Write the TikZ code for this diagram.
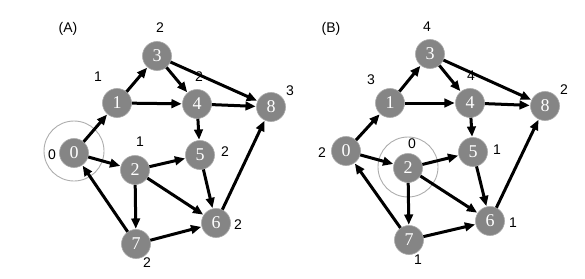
\documentclass[tikz,border=0pt]{standalone}
\usepackage{fontspec}
\setmainfont{Liberation Sans}
\newfontfamily\numfont{Liberation Serif}
\usepackage{xcolor}
\usetikzlibrary{arrows.meta}
\definecolor{nodegray}{HTML}{858585}
\definecolor{rimgray}{HTML}{A8A8A8}
\definecolor{ringgray}{HTML}{ADADAD}
\tikzset{
  >={Triangle[length=3.6mm,width=3mm]},
  vert/.style={circle, fill=nodegray, draw=rimgray, line width=.6pt, minimum size=29pt, inner sep=0pt, text=white, font=\numfont\fontsize{18}{18}\selectfont},
  edge/.style={->, line width=3pt, shorten >=0.5pt},
  dist/.style={font=\fontsize{14}{14}\selectfont},
  ring/.style={circle, draw=ringgray, line width=.9pt, minimum size=60pt, inner sep=0pt}
}
\begin{document}
\begin{tikzpicture}[x=1pt,y=-1pt]
  \useasboundingbox (0,0) rectangle (585,278);

  % panel (A)
  \node[font=\fontsize{14}{14}\selectfont] (labA) at (68,29) {(A)};
  \node[ring] (ringA) at (74,151) {};
  \node[vert] (a0) at (74,153) {0};
  \node[vert] (a1) at (117,103) {1};
  \node[vert] (a2) at (135,170) {2};
  \node[vert] (a3) at (157,56) {3};
  \node[vert] (a4) at (197,104) {4};
  \node[vert] (a5) at (200,155) {5};
  \node[vert] (a6) at (216,223) {6};
  \node[vert] (a7) at (136,244) {7};
  \node[vert] (a8) at (271,107) {8};
  \foreach \s/\t in {0/1,0/2,7/0,1/3,1/4,3/4,3/8,4/8,4/5,2/5,2/6,2/7,5/6,7/6,6/8}
    \draw[edge] (a\s) -- (a\t);
  \node[dist] (da0) at (52,155) {0};
  \node[dist] (da1) at (98,77) {1};
  \node[dist] (da2) at (140,142) {1};
  \node[dist] (da3) at (160,28) {2};
  \node[dist] (da4) at (199,77) {2};
  \node[dist] (da5) at (225,152) {2};
  \node[dist] (da6) at (238,225) {2};
  \node[dist] (da7) at (147,263) {2};
  \node[dist] (da8) at (290,91) {3};

  % panel (B)
  \node[font=\fontsize{14}{14}\selectfont] (labB) at (331,29) {(B)};
  \node[ring] (ringB) at (408,167) {};
  \node[vert] (b0) at (346,151) {0};
  \node[vert] (b1) at (390,103) {1};
  \node[vert] (b2) at (408,168) {2};
  \node[vert] (b3) at (430,54) {3};
  \node[vert] (b4) at (470,103) {4};
  \node[vert] (b5) at (473,152) {5};
  \node[vert] (b6) at (490,221) {6};
  \node[vert] (b7) at (409,240) {7};
  \node[vert] (b8) at (545,106) {8};
  \foreach \s/\t in {0/1,0/2,7/0,1/3,1/4,3/4,3/8,4/8,4/5,2/5,2/6,2/7,5/6,7/6,6/8}
    \draw[edge] (b\s) -- (b\t);
  \node[dist] (db0) at (322,153) {2};
  \node[dist] (db1) at (371,80) {3};
  \node[dist] (db2) at (412,144) {0};
  \node[dist] (db3) at (427,27) {4};
  \node[dist] (db4) at (471,76) {4};
  \node[dist] (db5) at (497,150) {1};
  \node[dist] (db6) at (513,223) {1};
  \node[dist] (db7) at (418,260) {1};
  \node[dist] (db8) at (564,90) {2};
\end{tikzpicture}
\end{document}
